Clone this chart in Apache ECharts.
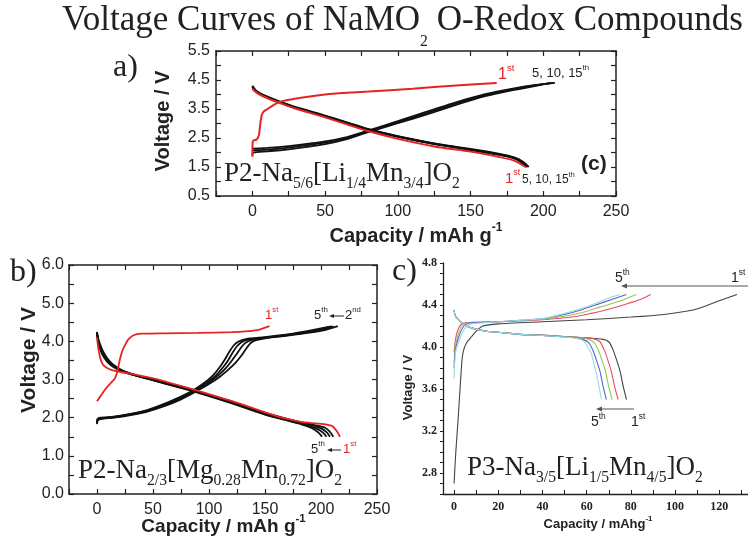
<!DOCTYPE html>
<html><head><meta charset="utf-8">
<script src="https://cdn.jsdelivr.net/npm/echarts@6/dist/echarts.min.js"></script>
<style>html,body{margin:0;padding:0;background:#fff}#c{width:748px;height:538px}</style>
</head><body><div id="c"></div>
<script>
// ---------------- DATA ----------------
// Panel a) P2-Na5/6[Li1/4Mn3/4]O2   [capacity mAh/g, voltage V]
const aRedCharge = [[0,1.85],[0.2,2.35],[1,2.42],[3,2.45],[4.5,2.6],[5.5,3.0],[6.5,3.3],[8,3.42],[10.5,3.5],[14,3.62],[18.5,3.74],[30,3.86],[53,4.02],[80,4.1],[110,4.2],[140,4.31],[168,4.4]];
const aRedDischarge = [[0,4.2],[2,4.1],[5,4.0],[10,3.88],[18,3.72],[30,3.51],[50,3.21],[65,2.97],[80,2.73],[100,2.47],[125,2.21],[150,2.03],[170,1.84],[180,1.72],[188,1.5]];
const aCharge5 = [[0,1.9],[0.5,2.0],[10,2.04],[25,2.11],[50,2.29],[65,2.46],[80,2.71],[100,3.01],[120,3.31],[140,3.64],[160,3.94],[180,4.16],[195,4.3],[205,4.4]];
const aCharge10 = [[0,2.07],[10,2.1],[25,2.17],[50,2.34],[65,2.5],[80,2.74],[100,3.05],[120,3.36],[140,3.69],[160,3.98],[180,4.19],[195,4.32],[207,4.4]];
const aCharge15 = [[0,2.13],[10,2.16],[25,2.22],[50,2.38],[65,2.53],[80,2.76],[100,3.08],[120,3.41],[140,3.73],[160,4.01],[180,4.21],[195,4.33],[208,4.4]];
const aDischarge5 = [[0,4.3],[2,4.16],[5,4.05],[10,3.93],[18,3.77],[30,3.56],[50,3.27],[65,3.04],[80,2.8],[100,2.56],[125,2.31],[150,2.12],[170,1.95],[180,1.83],[186,1.68],[190,1.5]];
const aDischarge10 = [[0,4.27],[2,4.14],[5,4.03],[10,3.91],[18,3.75],[30,3.54],[50,3.25],[65,3.02],[80,2.79],[100,2.55],[125,2.3],[150,2.1],[170,1.93],[180,1.81],[186,1.66],[189,1.5]];
const aDischarge15 = [[0,4.25],[2,4.12],[5,4.01],[10,3.9],[18,3.74],[30,3.53],[50,3.24],[65,3.01],[80,2.78],[100,2.54],[125,2.29],[150,2.09],[170,1.92],[180,1.8],[185,1.66],[188,1.5]];
const aXLabels = [0,50,100,150,200,250];
const aXTicks = [-25,0,25,50,75,100,125,150,175,200,225,250];
const aYLabels = [0.5,1.5,2.5,3.5,4.5,5.5];
const aYTicks = [0.5,1,1.5,2,2.5,3,3.5,4,4.5,5,5.5];

// Panel b) P2-Na2/3[Mg0.28Mn0.72]O2
const bRedCharge = [[0,2.43],[4,2.6],[8,2.77],[12,2.9],[16,3.03],[18.5,3.25],[20.6,3.55],[23,3.78],[25,3.9],[28,4.05],[32.6,4.16],[40,4.2],[60,4.21],[90,4.22],[120,4.24],[135,4.27],[145,4.31],[154,4.4]];
const bRedDischarge = [[0,4.1],[1,3.85],[3,3.55],[5,3.4],[9,3.3],[14,3.24],[22,3.19],[32,3.14],[45,3.06],[62,2.94],[86,2.74],[105,2.57],[122,2.42],[140,2.24],[152,2.12],[168,1.98],[182,1.89],[195,1.85],[205,1.82],[210,1.78],[214,1.65],[217,1.5]];
const bCharge2 = [[0,1.83],[0.5,1.92],[3,1.96],[15,2.0],[30,2.07],[45,2.16],[60,2.3],[75,2.48],[88,2.68],[100,2.88],[110,3.08],[118,3.28],[124,3.45],[129,3.63],[133,3.8],[137,3.95],[142,4.03],[150,4.08],[170,4.15],[190,4.23],[205,4.31],[215,4.4]];
const bCharge3 = [[0,1.85],[0.5,1.94],[3,1.97],[15,2.01],[30,2.08],[45,2.18],[60,2.32],[75,2.5],[88,2.7],[100,2.92],[108,3.1],[115,3.3],[120,3.48],[125,3.68],[129,3.85],[133,3.97],[139,4.04],[150,4.09],[170,4.16],[190,4.25],[203,4.33],[211,4.39]];
const bCharge4 = [[0,1.87],[0.5,1.95],[3,1.98],[15,2.02],[30,2.09],[45,2.19],[60,2.34],[75,2.52],[88,2.73],[100,2.96],[106,3.1],[112,3.3],[117,3.5],[121,3.7],[125,3.87],[129,3.98],[136,4.05],[150,4.1],[170,4.17],[190,4.26],[201,4.33],[209,4.39]];
const bCharge5 = [[0,1.88],[0.5,1.97],[3,2.0],[15,2.03],[30,2.1],[45,2.2],[60,2.36],[75,2.55],[88,2.76],[98,2.96],[104,3.12],[109,3.3],[114,3.52],[118,3.72],[122,3.89],[126,3.99],[133,4.06],[150,4.11],[170,4.18],[190,4.28],[200,4.34],[207,4.38]];
const bDischarge2 = [[0,4.2],[1,3.98],[3,3.78],[5,3.64],[9,3.47],[14,3.34],[22,3.21],[32,3.12],[45,3.03],[62,2.91],[86,2.72],[105,2.56],[122,2.41],[140,2.23],[152,2.11],[168,1.98],[182,1.88],[195,1.8],[204,1.73],[208,1.63],[211,1.5]];
const bDischarge3 = [[0,4.22],[1,4.02],[3,3.82],[5,3.68],[9,3.5],[14,3.36],[22,3.23],[32,3.13],[45,3.03],[62,2.9],[86,2.71],[105,2.54],[122,2.39],[140,2.21],[152,2.09],[168,1.97],[182,1.87],[193,1.79],[200,1.72],[205,1.62],[208,1.5]];
const bDischarge4 = [[0,4.24],[1,4.05],[3,3.86],[5,3.72],[9,3.53],[14,3.38],[22,3.24],[32,3.13],[45,3.02],[62,2.89],[86,2.7],[105,2.53],[122,2.37],[140,2.19],[152,2.07],[168,1.95],[180,1.86],[190,1.78],[197,1.7],[202,1.6],[205,1.5]];
const bDischarge5 = [[0,4.25],[1,4.08],[3,3.9],[5,3.76],[9,3.56],[14,3.4],[22,3.25],[32,3.14],[45,3.02],[62,2.88],[86,2.69],[105,2.52],[122,2.36],[140,2.18],[152,2.06],[168,1.94],[180,1.85],[188,1.77],[194,1.69],[198,1.6],[201,1.5]];
const bXLabels = [0,50,100,150,200,250];
const bXTicks = [-25,0,25,50,75,100,125,150,175,200,225,250];
const bYLabels = [0,1,2,3,4,5,6];
const bYTicks = [0,0.5,1,1.5,2,2.5,3,3.5,4,4.5,5,5.5,6];

// Panel c) P3-Na3/5[Li1/5Mn4/5]O2
const cCharge1 = [[0,2.7],[0.8,3.0],[1.8,3.3],[2.7,3.6],[3.5,3.85],[4.2,3.96],[5.7,4.04],[8,4.1],[10.5,4.16],[13,4.2],[20,4.22],[40,4.24],[60,4.26],[80,4.285],[95,4.31],[105,4.34],[111,4.37],[120,4.44],[128,4.5]];
const cCharge2 = [[0,3.95],[0.5,4.05],[1.5,4.15],[3,4.21],[5,4.23],[10,4.235],[20,4.24],[40,4.26],[55,4.29],[62,4.32],[69,4.355],[78,4.41],[84,4.45],[89,4.5]];
const cCharge3 = [[0,3.85],[0.5,4.0],[2,4.13],[3.5,4.2],[6,4.23],[20,4.24],[40,4.265],[52,4.3],[60,4.34],[66,4.38],[74,4.43],[82.5,4.5]];
const cCharge4 = [[0,3.8],[0.6,3.97],[2.5,4.12],[4.5,4.2],[7,4.23],[20,4.24],[40,4.27],[50,4.31],[57,4.35],[64,4.4],[71,4.45],[78,4.5]];
const cCharge5 = [[0,3.7],[0.7,3.95],[3,4.1],[5,4.18],[8,4.22],[20,4.24],[40,4.27],[48,4.31],[55,4.35],[61,4.39],[68,4.45],[75,4.5]];
const cDischarge1 = [[0,4.35],[0.5,4.3],[1.9,4.26],[3.5,4.23],[5.7,4.2],[9,4.175],[14.8,4.15],[20,4.14],[29.8,4.12],[40,4.115],[50,4.1],[61,4.085],[67,4.075],[70,4.05],[72,3.97],[73.5,3.88],[75,3.78],[76.6,3.62],[78,3.5]];
const cDischarge2 = [[0,4.35],[0.5,4.3],[1.9,4.26],[3.5,4.23],[5.7,4.2],[9,4.175],[14.8,4.15],[20,4.14],[29.8,4.12],[40,4.11],[50,4.1],[58,4.09],[63,4.08],[66,4.05],[68,3.97],[69.5,3.88],[71,3.78],[72.7,3.62],[74.2,3.5]];
const cDischarge3 = [[0,4.35],[0.5,4.3],[1.9,4.26],[3.5,4.23],[5.7,4.2],[9,4.175],[14.8,4.15],[20,4.14],[29.8,4.12],[40,4.11],[50,4.1],[56,4.09],[60.5,4.075],[63.5,4.04],[65.5,3.96],[67,3.87],[68.5,3.77],[70,3.62],[71.5,3.5]];
const cDischarge4 = [[0,4.35],[0.5,4.3],[1.9,4.26],[3.5,4.23],[5.7,4.2],[9,4.175],[14.8,4.15],[20,4.14],[29.8,4.12],[40,4.11],[50,4.095],[54,4.09],[58,4.075],[61,4.04],[63,3.96],[64.5,3.87],[66,3.77],[67.5,3.62],[68.9,3.5]];
const cDischarge5 = [[0,4.35],[0.5,4.3],[1.9,4.26],[3.5,4.23],[5.7,4.2],[9,4.175],[14.8,4.15],[20,4.14],[29.8,4.12],[40,4.11],[50,4.095],[56,4.08],[58.4,4.06],[60.5,4.0],[62.2,3.93],[63.5,3.82],[64.5,3.74],[65.6,3.62],[66.7,3.5]];
const cXLabels = [0,20,40,60,80,100,120];
const cXTicks = [0,10,20,30,40,50,60,70,80,90,100,110,120,130];
const cYLabels = [2.8,3.2,3.6,4.0,4.4,4.8];
const cYTicks = [2.6,2.7,2.8,2.9,3.0,3.1,3.2,3.3,3.4,3.5,3.6,3.7,3.8,3.9,4.0,4.1,4.2,4.3,4.4,4.5,4.6,4.7,4.8];

// ---------------- HELPERS ----------------
const INK = '#222';
const RED = '#e52421';
const cColors = ['#444444', '#ee4a63', '#97c84a', '#5a5fd2', '#97dcdc'];
const mctx = document.createElement('canvas').getContext('2d');
function richText(x, baseY, parts, o) {
  const fam = o.family, sz = o.size, wt = o.weight || 'normal', col = o.color || INK;
  const subS = o.subScale || 0.6, supS = o.supScale || 0.6;
  const subDy = o.subDy != null ? o.subDy : -sz * 0.1;
  const supDy = o.supDy != null ? o.supDy : -sz * 0.75;
  const items = []; let total = 0;
  parts.forEach(p => {
    const t = p[0], k = p[1] || 'n';
    const s = k === 'sub' ? sz * subS : k === 'sup' ? sz * supS : sz;
    mctx.font = wt + ' ' + s + 'px "' + fam + '"';
    const w = mctx.measureText(t).width;
    const my = k === 'sub' ? baseY + subDy : k === 'sup' ? baseY + supDy : baseY - sz * 0.34;
    items.push({ t, s, w, my, c: p[2] || col });
    total += w;
  });
  let cx = o.align === 'center' ? x - total / 2 : x;
  return items.map(it => {
    const e = { type: 'text', x: cx, y: it.my, silent: true, z: 100,
      style: { text: it.t, fill: it.c, fontSize: it.s, fontFamily: fam, fontWeight: wt,
        textAlign: 'left', textVerticalAlign: 'middle', verticalAlign: 'middle' } };
    cx += it.w; return e;
  });
}
function vText(x, y, text, size, weight, fam) {
  return { type: 'text', x: x, y: y, rotation: Math.PI / 2, silent: true, z: 100,
    style: { text: text, fill: INK, fontSize: size, fontWeight: weight, fontFamily: fam,
      textAlign: 'center', textVerticalAlign: 'middle', verticalAlign: 'middle' } };
}
function arrow(x1, y, x2, color, w, head) {
  const d = Math.sign(x2 - x1);
  return [
    { type: 'line', silent: true, z: 100, shape: { x1: x1, y1: y, x2: x2 - d * head * 0.6, y2: y }, style: { stroke: color, lineWidth: w } },
    { type: 'polygon', silent: true, z: 100, shape: { points: [[x2, y], [x2 - d * head, y - head * 0.42], [x2 - d * head, y + head * 0.42]] }, style: { fill: color } }
  ];
}
function xAx(grid, min, max, pos, labels, ticks, show, o) {
  return { type: 'value', gridIndex: grid, min: min, max: max, position: pos,
    axisLine: { show: true, onZero: false, lineStyle: { color: INK, width: o.lw } },
    axisTick: { show: true, inside: o.inside, length: o.tl, customValues: ticks, lineStyle: { color: INK, width: o.lw * 0.8 } },
    axisLabel: { show: show, customValues: labels, fontSize: o.fs, fontFamily: o.ff, fontWeight: o.fw || 'normal', color: INK, margin: o.margin,
      formatter: o.fmt },
    splitLine: { show: false } };
}
function line(data, xi, yi, color, w) {
  return { type: 'line', data: data, xAxisIndex: xi, yAxisIndex: yi, showSymbol: false, symbol: 'none',
    smooth: 0.2, lineStyle: { color: color, width: w }, animation: false, silent: true };
}

// ---------------- OPTION ----------------
const SANS = 'Liberation Sans', SERIF = 'Liberation Serif';
const oA = { lw: 1.5, inside: true, tl: 5, fs: 16, ff: SANS, margin: 8, fmt: v => String(v) };
const oAy = Object.assign({}, oA, { margin: 6, fmt: v => v.toFixed(1) });
const oB = { lw: 1.5, inside: true, tl: 5, fs: 16, ff: SANS, margin: 8, fmt: v => String(v) };
const oBy = Object.assign({}, oB, { margin: 5, fmt: v => v.toFixed(1) });
const oCx = { lw: 1.3, inside: true, tl: 4, fs: 12, ff: SERIF, fw: 'bold', margin: 7, fmt: v => String(v) };
const oCy = { lw: 1.3, inside: false, tl: 3, fs: 12, ff: SERIF, fw: 'bold', margin: 6, fmt: v => v.toFixed(1) };
const FORM = { family: SERIF, size: 27, subScale: 0.58, subDy: 1 };

const graphic = [].concat(
  richText(62, 33, [['Voltage Curves of NaMO'], ['2', 'sub'], [' O-Redox Compounds']], { family: SERIF, size: 35, subScale: 0.45, subDy: 9 }),
  richText(113, 78, [['a)']], { family: SERIF, size: 32 }),
  richText(10, 283, [['b)']], { family: SERIF, size: 32 }),
  richText(392, 282, [['c)']], { family: SERIF, size: 32 }),
  // formulas
  richText(224, 183, [['P2-Na'], ['5/6', 'sub'], ['[Li'], ['1/4', 'sub'], ['Mn'], ['3/4', 'sub'], [']O'], ['2', 'sub']], FORM),
  richText(78, 480, [['P2-Na'], ['2/3', 'sub'], ['[Mg'], ['0.28', 'sub'], ['Mn'], ['0.72', 'sub'], [']O'], ['2', 'sub']], FORM),
  richText(467, 477, [['P3-Na'], ['3/5', 'sub'], ['[Li'], ['1/5', 'sub'], ['Mn'], ['4/5', 'sub'], [']O'], ['2', 'sub']], FORM),
  // axis titles
  [vText(163.5, 121, 'Voltage / V', 20, 'bold', SANS)],
  richText(416, 243, [['Capacity / mAh g'], ['-1', 'sup']], { family: SANS, size: 20, weight: 'bold', align: 'center', supDy: -15 }),
  [vText(29.5, 360, 'Voltage / V', 21, 'bold', SANS)],
  richText(223.5, 533, [['Capacity / mAh g'], ['-1', 'sup']], { family: SANS, size: 19, weight: 'bold', align: 'center', supDy: -14 }),
  [vText(408, 387.5, 'Voltage / V', 13, 'bold', SANS)],
  richText(598, 529, [['Capacity / mAhg'], ['-1', 'sup']], { family: SANS, size: 13, weight: 'bold', align: 'center', supDy: -10 }),
  // panel a annotations
  richText(498, 80, [['1'], ['st', 'sup']], { family: SANS, size: 16, color: RED }),
  richText(532, 78, [['5, 10, 15'], ['th', 'sup']], { family: SANS, size: 13 }),
  richText(505, 184, [['1'], ['st', 'sup']], { family: SANS, size: 15, color: RED }),
  richText(522, 184, [['5, 10, 15'], ['th', 'sup']], { family: SANS, size: 12 }),
  richText(581, 171, [['(c)']], { family: SANS, size: 21, weight: 'bold' }),
  // panel b annotations
  richText(265, 320, [['1'], ['st', 'sup']], { family: SANS, size: 13, color: RED }),
  richText(314, 320, [['5'], ['th', 'sup']], { family: SANS, size: 13 }),
  arrow(344, 316, 329, INK, 1, 5),
  richText(345, 320, [['2'], ['nd', 'sup']], { family: SANS, size: 13 }),
  richText(311, 454, [['5'], ['th', 'sup']], { family: SANS, size: 13 }),
  arrow(341, 450, 327, INK, 1, 5),
  richText(343, 454, [['1'], ['st', 'sup']], { family: SANS, size: 13, color: RED }),
  // panel c annotations
  richText(615, 283, [['5'], ['th', 'sup']], { family: SANS, size: 14 }),
  richText(731, 283, [['1'], ['st', 'sup']], { family: SANS, size: 14 }),
  arrow(748, 286, 621, '#555', 1, 6),
  richText(591, 427, [['5'], ['th', 'sup']], { family: SANS, size: 14 }),
  richText(631, 427, [['1'], ['st', 'sup']], { family: SANS, size: 14 }),
  arrow(634, 409, 596, '#555', 1, 6)
);

const option = {
  backgroundColor: '#fff',
  animation: false,
  grid: [
    { left: 216, top: 51, width: 400, height: 145, outerBoundsMode: 'none' },
    { left: 69, top: 265, width: 308, height: 229, outerBoundsMode: 'none' },
    { left: 443, top: 263, width: 305, height: 231, outerBoundsMode: 'none' }
  ],
  xAxis: [
    xAx(0, -25, 250, 'bottom', aXLabels, aXTicks, true, oA),
    xAx(0, -25, 250, 'top', aXLabels, aXTicks, false, oA),
    xAx(1, -25, 250, 'bottom', bXLabels, bXTicks, true, oB),
    xAx(1, -25, 250, 'top', bXLabels, bXTicks, false, oB),
    xAx(2, -5, 133, 'bottom', cXLabels, cXTicks, true, oCx)
  ],
  yAxis: [
    xAx(0, 0.5, 5.5, 'left', aYLabels, aYTicks, true, oAy),
    xAx(0, 0.5, 5.5, 'right', aYLabels, aYTicks, false, oAy),
    xAx(1, 0, 6, 'left', bYLabels, bYTicks, true, oBy),
    xAx(1, 0, 6, 'right', bYLabels, bYTicks, false, oBy),
    xAx(2, 2.6, 4.8, 'left', cYLabels, cYTicks, true, oCy)
  ],
  series: [
    line(aCharge5, 0, 0, '#111', 1.8), line(aCharge10, 0, 0, '#111', 1.8), line(aCharge15, 0, 0, '#111', 1.8),
    line(aDischarge5, 0, 0, '#111', 2), line(aDischarge10, 0, 0, '#111', 2), line(aDischarge15, 0, 0, '#111', 2),
    line(aRedDischarge, 0, 0, RED, 2), line(aRedCharge, 0, 0, RED, 2),
    line(bCharge2, 2, 2, '#111', 1.8), line(bCharge3, 2, 2, '#111', 1.8), line(bCharge4, 2, 2, '#111', 1.8), line(bCharge5, 2, 2, '#111', 1.8),
    line(bDischarge2, 2, 2, '#111', 1.8), line(bDischarge3, 2, 2, '#111', 1.8), line(bDischarge4, 2, 2, '#111', 1.8), line(bDischarge5, 2, 2, '#111', 1.8),
    line(bRedDischarge, 2, 2, RED, 1.8), line(bRedCharge, 2, 2, RED, 1.8),
    line(cCharge1, 4, 4, cColors[0], 1.1), line(cDischarge1, 4, 4, cColors[0], 1.1),
    line(cCharge2, 4, 4, cColors[1], 1.1), line(cDischarge2, 4, 4, cColors[1], 1.1),
    line(cCharge3, 4, 4, cColors[2], 1.1), line(cDischarge3, 4, 4, cColors[2], 1.1),
    line(cCharge4, 4, 4, cColors[3], 1.1), line(cDischarge4, 4, 4, cColors[3], 1.1),
    line(cCharge5, 4, 4, cColors[4], 1.1), line(cDischarge5, 4, 4, cColors[4], 1.1)
  ],
  graphic: graphic
};
const chart = echarts.init(document.getElementById('c'), null, { renderer: 'canvas' });
chart.setOption(option);
</script></body></html>
